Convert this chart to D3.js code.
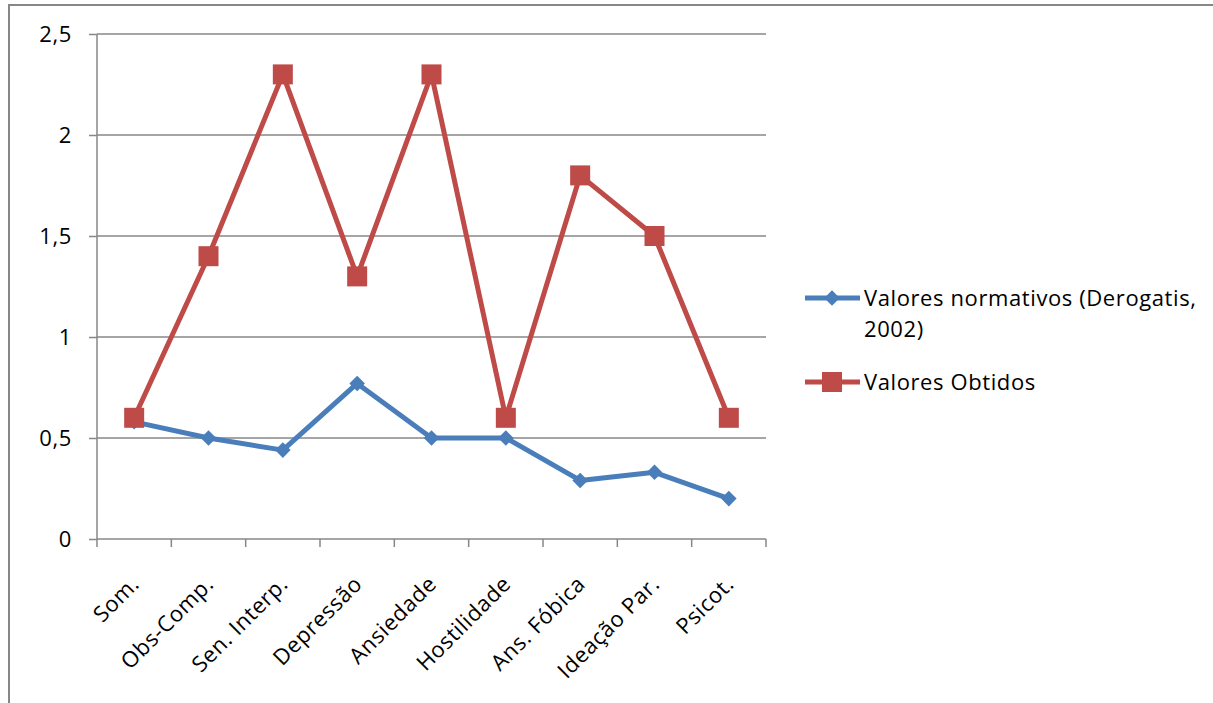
<!DOCTYPE html>
<html>
<head>
<meta charset="utf-8">
<script src="https://cdn.jsdelivr.net/npm/d3@7.9.0/dist/d3.min.js"></script>
<style>
  body { margin: 0; background: #fff; }
  svg { display: block; font-family: "Open Sans", sans-serif; }
  text { letter-spacing: 0.6px; }
</style>
</head>
<body>
<svg id="chart" width="1213" height="703"></svg>
<script>
const categories = ["Som.", "Obs-Comp.", "Sen. Interp.", "Depressão", "Ansiedade", "Hostilidade", "Ans. Fóbica", "Ideação Par.", "Psicot."];
const normativos = [0.58, 0.5, 0.44, 0.77, 0.5, 0.5, 0.29, 0.33, 0.2];
const obtidos = [0.6, 1.4, 2.3, 1.3, 2.3, 0.6, 1.8, 1.5, 0.6];
const yTicks = [0, 0.5, 1, 1.5, 2, 2.5];

const svg = d3.select("#chart");
const plotL = 97, plotR = 766, plotT = 34, plotB = 539;
const grey = "#878787";
const blue = "#4a7ebb", red = "#be4b48";
const fs = 22;

// outer frame
svg.append("rect")
  .attr("x", 9).attr("y", 5).attr("width", 1220).attr("height", 720)
  .attr("fill", "none").attr("stroke", grey).attr("stroke-width", 2);

const x = d3.scaleBand().domain(categories).range([plotL, plotR]);
const y = d3.scaleLinear().domain([0, 2.5]).range([plotB, plotT]);
const fmt = d => String(d).replace(".", ",");

// gridlines
svg.append("g")
  .selectAll("line")
  .data(yTicks.slice(1))
  .join("line")
  .attr("x1", plotL).attr("x2", plotR)
  .attr("y1", d => y(d)).attr("y2", d => y(d))
  .attr("stroke", grey).attr("stroke-width", 1.5);

// y axis
const yAxis = svg.append("g")
  .attr("transform", `translate(${plotL},0)`)
  .call(d3.axisLeft(y).tickValues(yTicks).tickFormat(fmt).tickSize(8).tickPadding(17));
yAxis.select(".domain").attr("stroke", grey).attr("stroke-width", 1.5).attr("d", `M0,${plotT}V${plotB}`);
yAxis.selectAll(".tick line").attr("stroke", grey).attr("stroke-width", 1.5);
yAxis.selectAll("text").attr("font-size", fs).attr("fill", "#000").attr("font-family", "Open Sans");

// x axis
const xAxis = svg.append("g")
  .attr("transform", `translate(0,${plotB})`)
  .call(d3.axisBottom(x).tickSize(0).tickFormat(""));
xAxis.select(".domain").attr("stroke", grey).attr("stroke-width", 1.5).attr("d", `M${plotL},0H${plotR}`);
const edges = categories.map(c => x(c)).concat([plotR]);
xAxis.selectAll(".edge")
  .data(edges)
  .join("line")
  .attr("x1", d => d).attr("x2", d => d)
  .attr("y1", 0).attr("y2", 8)
  .attr("stroke", grey).attr("stroke-width", 1.5);
svg.append("g")
  .selectAll("text")
  .data(categories)
  .join("text")
  .attr("transform", d => `translate(${x(d) + x.bandwidth() / 2 + 1},${plotB + 41}) rotate(-45)`)
  .attr("text-anchor", "end")
  .attr("dy", "0.35em")
  .attr("font-size", fs)
  .text(d => d);

const cx = c => x(c) + x.bandwidth() / 2;
const line = d3.line().x((d, i) => cx(categories[i])).y(d => y(d));

// series
svg.append("path").datum(normativos).attr("d", line)
  .attr("fill", "none").attr("stroke", blue).attr("stroke-width", 5).attr("stroke-linejoin", "round");
svg.append("path").datum(obtidos).attr("d", line)
  .attr("fill", "none").attr("stroke", red).attr("stroke-width", 5).attr("stroke-linejoin", "round");

svg.append("g").selectAll("path")
  .data(normativos)
  .join("path")
  .attr("transform", (d, i) => `translate(${cx(categories[i])},${y(d)}) rotate(45)`)
  .attr("d", d3.symbol().type(d3.symbolSquare).size(121))
  .attr("fill", blue);
svg.append("g").selectAll("rect")
  .data(obtidos)
  .join("rect")
  .attr("x", (d, i) => cx(categories[i]) - 10)
  .attr("y", d => y(d) - 10)
  .attr("width", 20).attr("height", 20)
  .attr("fill", red);

// legend
const legend = svg.append("g").attr("font-size", fs);
const legendItems = [
  { label: ["Valores normativos (Derogatis,", "2002)"], color: blue, ly: 298, marker: "diamond" },
  { label: ["Valores Obtidos"], color: red, ly: 382, marker: "square" }
];
legendItems.forEach(it => {
  legend.append("line")
    .attr("x1", 805).attr("x2", 860).attr("y1", it.ly).attr("y2", it.ly)
    .attr("stroke", it.color).attr("stroke-width", 5);
  if (it.marker === "diamond") {
    legend.append("path")
      .attr("transform", `translate(832,${it.ly}) rotate(45)`)
      .attr("d", d3.symbol().type(d3.symbolSquare).size(121))
      .attr("fill", it.color);
  } else {
    legend.append("rect")
      .attr("x", 822).attr("y", it.ly - 10).attr("width", 20).attr("height", 20)
      .attr("fill", it.color);
  }
  const t = legend.append("text").attr("x", 864).attr("y", it.ly + 8);
  it.label.forEach((s, i) => {
    t.append("tspan").attr("x", 864).attr("dy", i === 0 ? 0 : 31).text(s);
  });
});
</script>
</body>
</html>
